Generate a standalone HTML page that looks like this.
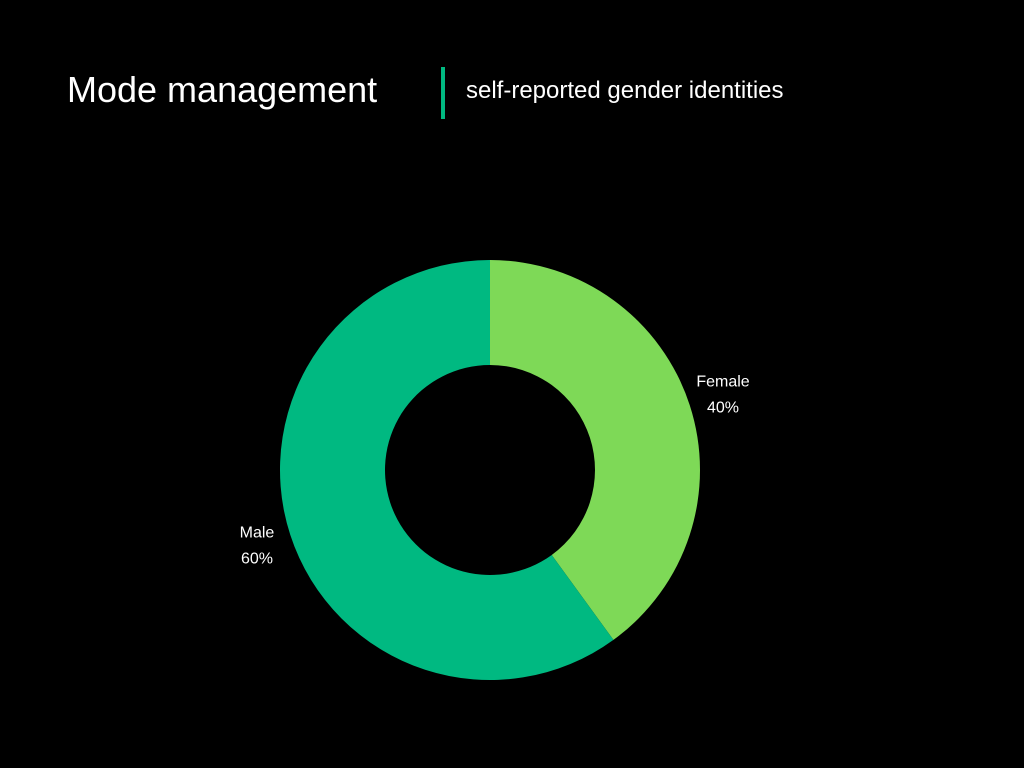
<!DOCTYPE html>
<html><head><meta charset="utf-8"><style>
html,body{margin:0;padding:0;background:#000;}
body{width:1024px;height:768px;position:relative;overflow:hidden;font-family:"Liberation Sans",sans-serif;color:#fff;}
.title{position:absolute;left:67px;top:68px;font-size:36px;line-height:44px;}
.bar{position:absolute;left:441px;top:67px;width:4px;height:52px;background:#00b981;}
.sub{position:absolute;left:466px;top:76px;font-size:24px;line-height:30px;}
</style></head><body>
<div class="title">Mode management</div>
<div class="bar"></div>
<div class="sub">self-reported gender identities</div>
<svg id="chart" width="1024" height="768" style="position:absolute;left:0;top:0"></svg>
<script>
const categories = ["Female", "Male"];
const values = [40, 60];
const colors = ["#7ed957", "#00b981"];
const svg = document.getElementById('chart');
const NS = "http://www.w3.org/2000/svg";
const cx = 490, cy = 470, R = 210, r = 105, labelR = 245;
const total = values.reduce((a,b)=>a+b,0);
function pt(rad, a){ return [cx + rad*Math.sin(a), cy - rad*Math.cos(a)]; }
let start = 0;
values.forEach((v,i)=>{
  const ang = v/total*2*Math.PI, end = start+ang;
  const large = ang>Math.PI?1:0;
  const [x1,y1]=pt(R,start),[x2,y2]=pt(R,end),[x3,y3]=pt(r,end),[x4,y4]=pt(r,start);
  const p=document.createElementNS(NS,'path');
  p.setAttribute('d',`M${x1},${y1}A${R},${R} 0 ${large} 1 ${x2},${y2}L${x3},${y3}A${r},${r} 0 ${large} 0 ${x4},${y4}Z`);
  p.setAttribute('fill',colors[i]);
  
  
  svg.appendChild(p);
  const mid = start+ang/2;
  const [lx,ly]=pt(labelR,mid);
  const t=document.createElementNS(NS,'text');
  t.setAttribute('x',lx);t.setAttribute('y',ly-8);
  t.setAttribute('fill','#fff');t.setAttribute('font-size','16');
  t.setAttribute('text-anchor','middle');
  t.setAttribute('font-family','Liberation Sans, sans-serif');
  
  
  const s1=document.createElementNS(NS,'tspan');s1.setAttribute('x',lx);s1.textContent=categories[i];
  const s2=document.createElementNS(NS,'tspan');s2.setAttribute('x',lx);s2.setAttribute('dy','26');s2.textContent=v+'%';
  t.appendChild(s1);t.appendChild(s2);
  svg.appendChild(t);
  start=end;
});
</script>
</body></html>
